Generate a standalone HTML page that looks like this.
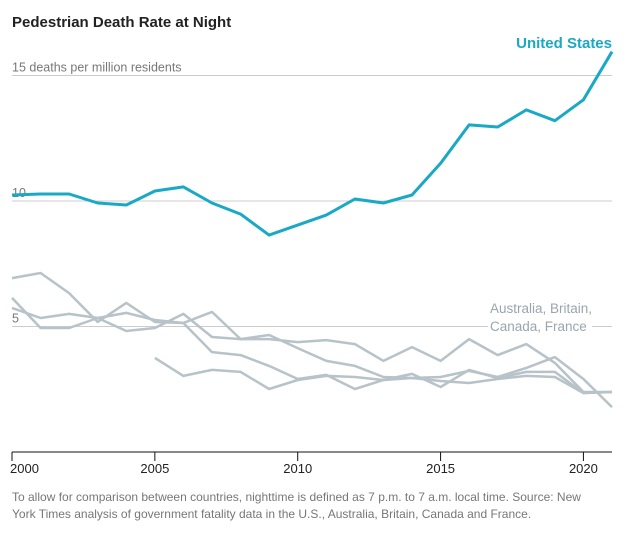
<!DOCTYPE html>
<html><head><meta charset="utf-8"><style>
body{margin:0;background:#fff;font-family:"Liberation Sans",sans-serif;}
svg text{font-family:"Liberation Sans",sans-serif;}
</style></head><body>
<svg width="627" height="531">
<text x="12" y="27" font-size="15" font-weight="bold" fill="#222">Pedestrian Death Rate at Night</text>
<g id="grid"></g>
<g id="lines"></g>
<text x="612" y="48" text-anchor="end" font-size="15" font-weight="bold" fill="#1aa9c4">United States</text>
<text x="490" y="313" font-size="13.5" fill="#9aa5ad">Australia, Britain,</text>
<rect x="488" y="319" width="104" height="14" fill="#fff"/>
<text x="490" y="331" font-size="13.5" fill="#9aa5ad">Canada, France</text>
<g id="xaxis"></g>
<text x="12" y="501" font-size="12" fill="#777">To allow for comparison between countries, nighttime is defined as 7 p.m. to 7 a.m. local time. Source: New</text>
<text x="12" y="518" font-size="12" fill="#777">York Times analysis of government fatality data in the U.S., Australia, Britain, Canada and France.</text>
</svg>
<script>
const years=[2000,2001,2002,2003,2004,2005,2006,2007,2008,2009,2010,2011,2012,2013,2014,2015,2016,2017,2018,2019,2020,2021];
const usValues=[10.24,10.28,10.28,9.92,9.84,10.4,10.56,9.92,9.48,8.64,9.04,9.44,10.08,9.92,10.24,11.5,13.03,12.95,13.63,13.2,14.03,15.95];
const lineA=[6.93,7.13,6.33,5.18,5.94,5.18,5.14,3.98,3.86,3.43,2.91,3.07,2.51,2.87,3.11,2.59,3.27,2.95,3.19,3.19,2.35,2.39];
const lineB=[6.14,4.94,4.94,5.34,5.54,5.26,5.14,5.58,4.50,4.50,4.38,4.46,4.30,3.63,4.18,3.63,4.50,3.86,4.30,3.55,2.39,2.39];
const lineC=[5.74,5.34,5.50,5.34,4.82,4.94,5.50,4.58,4.50,4.66,4.14,3.63,3.43,2.99,2.95,2.99,3.23,2.99,3.35,3.78,2.91,1.79];
const lineD=[null,null,null,null,null,3.75,3.03,3.27,3.19,2.51,2.87,3.03,2.99,2.87,2.95,2.83,2.75,2.91,3.03,2.99,2.35,2.39];
const yTicks=[5,10];
const xTicks=[2000,2005,2010,2015,2020];
const NS="http://www.w3.org/2000/svg";
const x=v=>12+(v-2000)*(600/21);
const y=v=>452-v*25.1;
const grid=document.getElementById('grid'),lines=document.getElementById('lines'),xa=document.getElementById('xaxis');
function mk(t,a,p){const e=document.createElementNS(NS,t);for(const k in a)e.setAttribute(k,a[k]);p.appendChild(e);return e;}
[5,10,15].forEach(v=>{const l=mk('line',{x1:12,x2:612,y1:y(v),y2:y(v),stroke:'#ccc','stroke-width':1},grid);

});
yTicks.forEach(v=>{const t=mk('text',{x:12,y:y(v)-4,'font-size':12.5,fill:'#777'},grid);t.textContent=v;

});
const t15=mk('text',{x:12,y:y(15)-4,'font-size':12.5,fill:'#777'},grid);t15.textContent='15 deaths per million residents';


function path(vals,color,w,name){let d='';vals.forEach((v,i)=>{if(v==null)return;d+=(d?'L':'M')+x(years[i]).toFixed(1)+','+y(v).toFixed(1);});
const p=mk('path',{d:d,fill:'none',stroke:color,'stroke-width':w,'stroke-linejoin':'round'},lines);

}
path(lineA,'#b7c2c9',2.5,'line-country-a');
path(lineB,'#b7c2c9',2.5,'line-country-b');
path(lineC,'#b7c2c9',2.5,'line-country-c');
path(lineD,'#b7c2c9',2.5,'line-country-d');
path(usValues,'#1aa9c4',3,'line-united-states');
const ax=mk('line',{x1:12,x2:612,y1:452,y2:452,stroke:'#111','stroke-width':1},xa);


xTicks.forEach((v,i)=>{const tk=mk('line',{x1:x(v),x2:x(v),y1:452,y2:461,stroke:'#111'},xa);


const t=mk('text',{x:i===0?10:x(v),y:473,'font-size':13,fill:'#222','text-anchor':i===0?'start':'middle'},xa);t.textContent=v;

});
</script>
</body></html>
